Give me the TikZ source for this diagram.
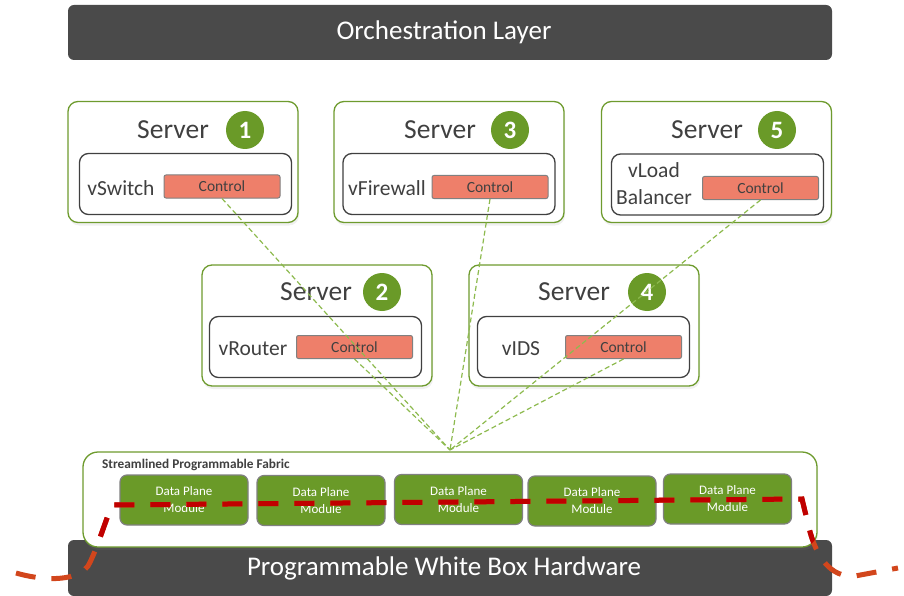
\documentclass[tikz,border=0pt]{standalone}
\usepackage{fontspec}
\setmainfont{Carlito}
\usetikzlibrary{shadows}
\definecolor{barfill}{HTML}{4A4A4A}
\definecolor{leaf}{HTML}{6E9B2E}
\definecolor{modfill}{HTML}{6A9A28}
\definecolor{leafline}{HTML}{8DBA4E}
\definecolor{ink}{HTML}{404040}
\definecolor{salmon}{HTML}{EE7F6A}
\definecolor{cut}{HTML}{C00000}
\definecolor{cutout}{HTML}{D2461C}
\def\seamline{(16,573) .. controls (40,580) and (75,583) .. (88,566)
  .. controls (96,552) and (105,522) .. (112,505) -- (802,499)
  -- (809,528) .. controls (816,556) and (830,578) .. (855,576) -- (898,568)}
\begin{document}
\begin{tikzpicture}[x=1pt,y=-1pt,
  bar/.style={fill=barfill, rounded corners=6pt, minimum width=764pt, inner sep=0pt},
  bartext/.style={text=white, font=\fontsize{27}{30}\selectfont, inner sep=0pt},
  server/.style={draw=leaf, line width=1.3pt, fill=white, rounded corners=10pt,
    minimum width=230pt, minimum height=121pt, inner sep=0pt,
    drop shadow={shadow xshift=1pt, shadow yshift=-3pt, opacity=0.12}},
  vmbox/.style={draw=ink, line width=1.3pt, fill=white, rounded corners=9pt,
    minimum width=212pt, minimum height=61pt, inner sep=0pt},
  ctrl/.style={draw=gray, line width=1pt, fill=salmon, rounded corners=2pt,
    minimum width=116pt, minimum height=23pt, inner sep=0pt, text=ink,
    font=\fontsize{15.5}{17}\selectfont},
  srvtitle/.style={text=ink, font=\fontsize{27.5}{30}\selectfont, inner sep=0pt},
  vmname/.style={text=ink, font=\fontsize{21.5}{27}\selectfont, inner sep=0pt, align=center},
  badge/.style={circle, fill=modfill, minimum size=38pt, inner sep=0pt, text=white,
    font=\fontsize{25}{27}\selectfont\bfseries},
  module/.style={draw=gray, line width=1.2pt, fill=modfill, rounded corners=7pt,
    minimum width=128pt, minimum height=50pt, inner sep=0pt, text=white, align=center,
    font=\fontsize{13}{17}\selectfont},
  link/.style={draw=leafline, line width=1.2pt, dash pattern=on 5pt off 3pt},
  seam/.style={line width=5pt, dash pattern=on 20pt off 16pt}
]
\useasboundingbox (0,0) rectangle (904,596);

% top and bottom bars
\node[bar, minimum height=55pt] (orch) at (450,32.5) {};
\node[bartext] (orchtext) at (444,32.5) {Orchestration Layer};
\node[bar, minimum height=56pt] (hw) at (450,568) {};

% programmable fabric with its data plane modules
\node[draw=leaf, line width=1.3pt, fill=white, rounded corners=15pt,
  minimum width=734pt, minimum height=95pt, inner sep=0pt,
  drop shadow={shadow xshift=1pt, shadow yshift=-3pt, opacity=0.12}] (fabric) at (450,499.5) {};
\node[anchor=west, text=ink, inner sep=0pt, font=\fontsize{13.3}{15}\selectfont\bfseries]
  (fabtitle) at (102,465) {Streamlined Programmable Fabric};
\node[bartext] (hwtext) at (444,568) {Programmable White Box Hardware};

\node[module] (m1) at (184,500)   {Data Plane\\Module};
\node[module] (m2) at (321,500.5) {Data Plane\\Module};
\node[module] (m3) at (458.5,499.5) {Data Plane\\Module};
\node[module] (m4) at (592,501)   {Data Plane\\Module};
\node[module] (m5) at (727.5,499) {Data Plane\\Module};

% servers
\node[server] (s1) at (183,162) {};
\node[server] (s3) at (449,162) {};
\node[server] (s5) at (716.5,162) {};
\node[server] (s2) at (317,325.5) {};
\node[server] (s4) at (584,325.5) {};

\node[srvtitle] (t1) at (173,130) {Server};
\node[srvtitle] (t3) at (440,130) {Server};
\node[srvtitle] (t5) at (707,130) {Server};
\node[srvtitle] (t2) at (316,292) {Server};
\node[srvtitle] (t4) at (574,292) {Server};

\node[badge] (b1) at (245,130) {1};
\node[badge] (b3) at (510,130) {3};
\node[badge] (b5) at (777,130) {5};
\node[badge] (b2) at (382,292) {2};
\node[badge] (b4) at (647,292) {4};

\node[vmbox] (v1) at (185.5,184) {};
\node[vmbox] (v3) at (449,184) {};
\node[vmbox] (v5) at (717.5,184.5) {};
\node[vmbox] (v2) at (315.5,347) {};
\node[vmbox] (v4) at (583.5,347) {};

\node[vmname] (n1) at (121,188) {vSwitch};
\node[vmname] (n3) at (387,188) {vFirewall};
\node[vmname] (n5) at (654,184) {vLoad\\Balancer};
\node[vmname] (n2) at (253,349) {vRouter};
\node[vmname] (n4) at (521,349) {vIDS};

\node[ctrl] (c1) at (222,186.5) {Control};
\node[ctrl] (c3) at (490,187)   {Control};
\node[ctrl] (c5) at (760.5,188) {Control};
\node[ctrl] (c2) at (354.5,347) {Control};
\node[ctrl] (c4) at (623.5,347) {Control};

% control links converging on the fabric
\coordinate (hub) at (450,450);
\foreach \c in {c1,c2,c3,c4,c5}
  \draw[link] (\c.south) -- (hub);

% split line across the fabric
\draw[seam, draw=cutout] \seamline;
\begin{scope}
  \clip[rounded corners=15pt] (83,452) rectangle (817,547);
  \draw[seam, draw=cut] \seamline;
\end{scope}
\end{tikzpicture}
\end{document}
